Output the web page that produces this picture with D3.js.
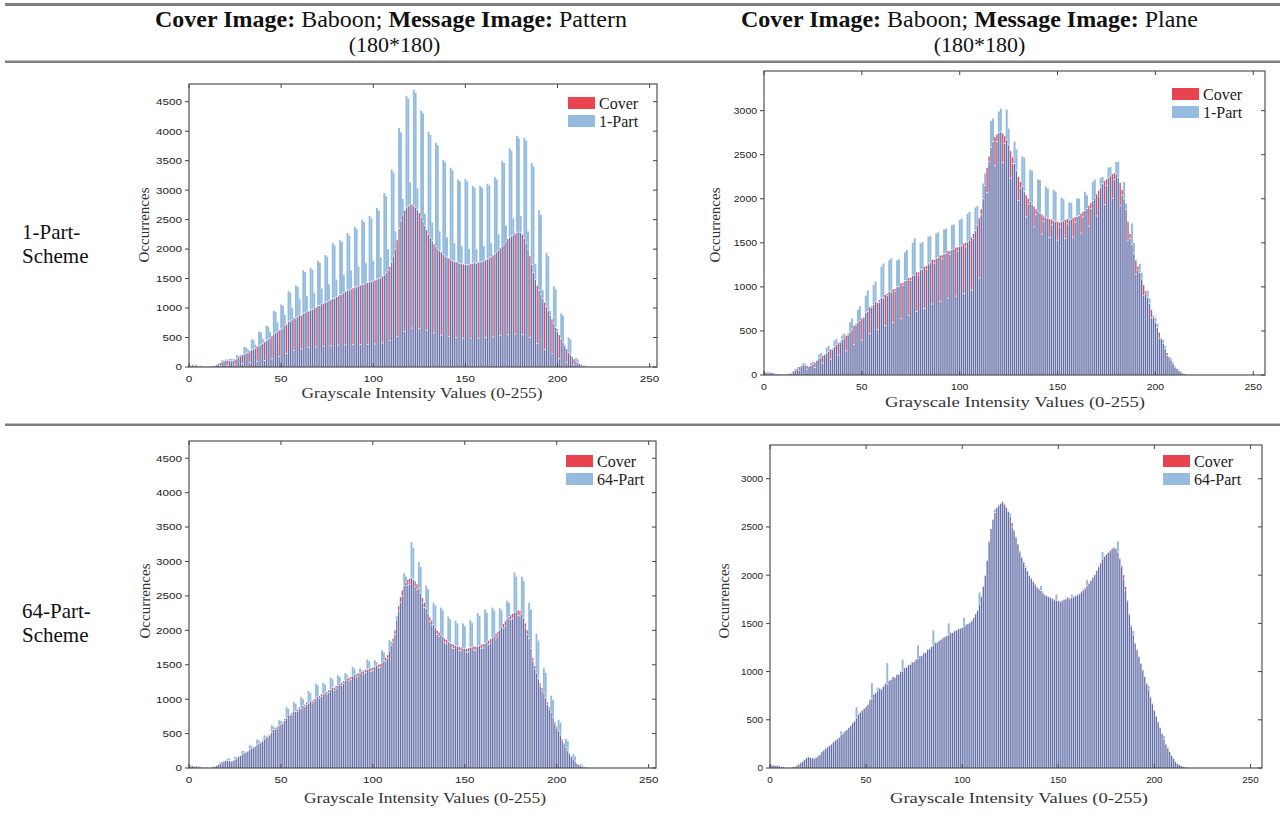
<!DOCTYPE html>
<html>
<head>
<meta charset="utf-8">
<script src="https://cdn.jsdelivr.net/npm/d3@7"></script>
<style>
body{margin:0;background:#fff;}
text{fill:#111;}
</style>
</head>
<body>
<svg id="fig" width="1285" height="818"></svg>
<script>
/* histogram counts, grayscale bins 0..219 (bins above 219 are empty) */
var bins = d3.range(0, 220);

// Baboon cover image
var cover = [
40,30,35,25,30,20,15,10,5,0,
5,5,10,15,25,40,55,70,90,105,
115,110,105,100,110,125,140,170,185,200,
220,235,250,270,290,300,320,345,360,380,
400,420,445,470,490,520,560,580,600,620,
640,660,710,720,770,780,800,830,820,850,
880,870,910,920,950,940,970,975,1000,1005,
1040,1045,1070,1075,1100,1105,1130,1135,1165,1165,
1195,1200,1230,1235,1260,1275,1305,1305,1325,1335,
1355,1360,1375,1380,1405,1405,1425,1430,1445,1450,
1460,1470,1490,1500,1510,1530,1560,1600,1640,1700,
1780,1880,2000,2150,2350,2480,2580,2650,2700,2730,
2750,2760,2740,2710,2670,2610,2540,2470,2400,2320,
2250,2190,2140,2080,2040,2000,1970,1940,1910,1880,
1860,1840,1820,1800,1790,1780,1770,1760,1750,1740,
1740,1730,1740,1750,1760,1770,1760,1770,1780,1790,
1800,1810,1830,1850,1870,1890,1920,1950,1980,2010,
2050,2090,2130,2170,2200,2220,2240,2260,2280,2290,
2280,2240,2180,2100,2000,1880,1740,1600,1480,1380,
1300,1230,1160,1090,1020,950,880,810,740,670,
600,540,480,420,360,300,250,210,170,130,
100,70,50,35,20,12,6,3,1,0
];

// message Pattern, 1-Part scheme
var pattern1 = [
35,20,45,40,30,10,25,20,5,0,
10,8,10,5,30,35,60,20,120,115,
130,30,140,135,130,35,200,190,210,55,
340,330,300,75,470,460,380,95,600,590,
480,110,700,690,600,140,950,930,760,180,
1060,1040,880,230,1290,1260,1000,280,1380,1360,
1160,310,1640,1610,1200,330,1680,1650,1260,340,
1800,1770,1330,350,1900,1870,1400,360,2100,2060,
1480,370,2150,2120,1560,375,2270,2230,1640,380,
2380,2340,1700,380,2500,2460,1760,385,2560,2520,
1800,390,2700,2650,1860,410,2950,2900,2000,450,
3350,3300,2300,520,4050,3980,2850,600,4600,4550,
3130,660,4700,4650,3030,650,4350,4300,2600,620,
3990,3940,2450,580,3800,3760,2300,540,3510,3470,
2200,520,3380,3340,2100,500,3180,3150,2050,490,
3190,3150,2000,490,3070,3040,2000,490,3070,3040,
2050,500,3110,3080,2100,510,3220,3180,2250,530,
3500,3460,2400,550,3710,3670,2520,560,3920,3880,
2560,550,3890,3840,2300,500,3460,3400,1750,400,
2660,2580,1300,300,1940,1880,950,220,1370,1320,
650,140,910,870,380,80,500,470,180,35,
150,130,50,10,30,25,8,2,0,0
];

// message Plane, 1-Part scheme
var plane1 = [
40,35,20,25,35,25,10,10,8,5,
3,5,15,20,15,40,70,85,55,100,
135,130,65,95,135,150,85,165,230,250,
135,230,310,330,180,290,390,410,225,370,
450,470,275,455,600,640,345,565,740,780,
395,650,900,960,470,765,1020,1060,515,825,
1230,1266,560,900,1300,1323,595,950,1300,1312,
640,1020,1390,1417,675,1075,1500,1550,720,1135,
1493,1510,755,1200,1568,1580,805,1270,1606,1620,
835,1320,1650,1660,870,1370,1700,1710,895,1405,
1760,1775,925,1455,1830,1850,965,1550,1900,1920,
1100,1820,2173,2287,2070,2420,2884,2910,2375,2650,
2990,3023,2410,2630,3012,2797,2235,2400,2650,2559,
1980,2120,2480,2468,1795,1940,2330,2317,1680,1820,
2220,2211,1600,1745,2140,2117,1560,1705,2100,2080,
1530,1680,2010,1995,1550,1715,1960,1954,1565,1735,
2003,2003,1610,1795,2079,2040,1690,1890,2190,2218,
1805,2030,2237,2250,1935,2150,2355,2360,2005,2220,
2419,2419,1920,2040,2192,1946,1530,1550,1720,1500,
1145,1190,1260,1160,900,920,960,870,650,650,
650,580,420,410,400,330,220,205,190,145,
88,70,60,40,12,12,8,4,2,0
];

// message Pattern, 64-Part scheme
var pattern64 = [
35,40,38,22,28,30,28,9,5,5,
5,4,9,20,28,37,52,90,88,100,
110,140,135,98,106,165,160,162,178,250,
240,228,242,330,320,290,310,412,400,365,
385,475,465,455,475,620,600,560,580,693,
680,640,690,887,860,765,775,960,935,825,
855,1032,1000,895,920,1119,1090,945,970,1227,
1200,1015,1040,1236,1210,1075,1095,1314,1290,1130,
1160,1347,1320,1200,1225,1381,1355,1265,1285,1468,
1440,1320,1335,1445,1420,1365,1385,1576,1550,1405,
1415,1566,1540,1455,1465,1711,1680,1550,1590,1856,
1830,1825,1940,2205,2280,2405,2500,2830,2780,2650,
2670,3280,3200,2630,2590,2990,2920,2400,2330,2650,
2600,2125,2075,2400,2360,1940,1910,2330,2290,1825,
1805,2200,2160,1745,1735,2140,2100,1705,1700,2100,
2060,1680,1690,2150,2110,1715,1705,2250,2210,1735,
1745,2300,2260,1795,1815,2330,2290,1890,1920,2320,
2290,2030,2065,2430,2400,2155,2175,2840,2780,2220,
2210,2780,2720,2035,1940,2400,2300,1550,1435,1950,
1850,1195,1125,1450,1380,920,855,1050,990,650,
580,700,660,405,350,420,390,205,165,200,
170,68,48,60,40,12,6,3,1,0
];

// message Plane, 64-Part scheme
var plane64 = [
38,32,30,28,28,22,14,10,6,2,
4,6,10,14,24,42,56,72,88,108,
118,112,104,102,108,128,138,172,186,200,
218,238,248,272,288,305,318,380,358,380,
398,418,442,468,488,630,556,578,598,618,
636,662,706,880,765,782,835,826,818,848,
878,1090,906,918,948,942,968,972,1000,1125,
1038,1046,1068,1076,1098,1102,1128,1273,1162,1166,
1192,1198,1226,1236,1258,1428,1300,1308,1322,1336,
1352,1362,1372,1500,1402,1408,1422,1432,1442,1452,
1458,1560,1488,1498,1508,1528,1558,1598,1636,1820,
1775,1880,1995,2150,2345,2480,2575,2680,2705,2725,
2745,2770,2735,2700,2660,2640,2500,2460,2395,2320,
2240,2185,2135,2095,2040,1995,1965,1935,1905,1875,
1855,1890,1815,1795,1785,1775,1765,1755,1745,1800,
1735,1725,1735,1745,1755,1770,1755,1800,1775,1785,
1795,1805,1825,1845,1865,1950,1915,1945,1975,2005,
2045,2085,2125,2240,2195,2215,2235,2255,2275,2285,
2275,2350,2170,2090,1960,1840,1730,1590,1470,1420,
1295,1225,1155,1085,1015,945,875,850,735,665,
598,538,478,418,358,330,248,208,168,128,
98,68,48,40,20,12,6,3,1,0
];

var xTicks = [0, 50, 100, 150, 200, 250];
var yTicksPattern = [0, 500, 1000, 1500, 2000, 2500, 3000, 3500, 4000, 4500];
var yTicksPlane = [0, 500, 1000, 1500, 2000, 2500, 3000];

var colOverlap = '#6670a8',
    colCover = '#cf5068',
    colStego = '#93bbde';

var panels = [
  {stego:pattern1, name:'1-Part', l:189, r:657, t:84, b:367, xmax:254, ymax:4800, yTicks:yTicksPattern, dw:6.5,
   leg:[568,97], xlab:[422,398,241], ylab:[144,225]},
  {stego:plane1, name:'1-Part', l:764, r:1265, t:71, b:375, xmax:256, ymax:3450, yTicks:yTicksPlane, dw:5.8,
   leg:[1172,88], xlab:[1015,407,260], ylab:[715,225]},
  {stego:pattern64, name:'64-Part', l:189, r:656, t:441, b:768, xmax:254, ymax:4750, yTicks:yTicksPattern, dw:6.5,
   leg:[566,455], xlab:[425,803,242], ylab:[145,601]},
  {stego:plane64, name:'64-Part', l:770, r:1262, t:445, b:768, xmax:256, ymax:3350, yTicks:yTicksPlane, dw:5.5,
   leg:[1163,455], xlab:[1019,803,258], ylab:[724,601]}
];

var svg = d3.select('#fig');
var serif = '"Liberation Serif","Times New Roman",serif';
var sans = '"Liberation Sans",Arial,sans-serif';

/* table rules */
svg.append('rect').attr('x',5).attr('y',3).attr('width',1275).attr('height',3).attr('fill','#7f7f7f');
svg.append('rect').attr('x',5).attr('y',60.5).attr('width',1275).attr('height',2.5).attr('fill','#7f7f7f');
svg.append('rect').attr('x',5).attr('y',423.5).attr('width',1275).attr('height',2.5).attr('fill','#7f7f7f');

/* column headers */
function header(cx, cx2, msg, w){
  var t = svg.append('text').attr('x',cx).attr('y',27).attr('text-anchor','middle')
    .attr('textLength', w).attr('lengthAdjust','spacingAndGlyphs')
    .style('font-family',serif).style('font-size','22.5px');
  t.append('tspan').attr('font-weight','bold').text('Cover Image:');
  t.append('tspan').text(' Baboon; ');
  t.append('tspan').attr('font-weight','bold').text('Message Image:');
  t.append('tspan').text(' ' + msg);
  svg.append('text').attr('x',cx2).attr('y',52).attr('text-anchor','middle')
    .style('font-family',serif).style('font-size','22px').text('(180*180)');
}
header(391, 394.5, 'Pattern', 472);
header(969.5, 979.5, 'Plane', 457);

/* row labels */
function rowLabel(y, l1){
  svg.append('text').attr('x',22).attr('y',y).style('font-family',serif).style('font-size','21px').text(l1);
  svg.append('text').attr('x',22).attr('y',y + 24).style('font-family',serif).style('font-size','21px').text('Scheme');
}
rowLabel(239, '1-Part-');
rowLabel(618, '64-Part-');

panels.forEach(drawPanel);

function drawPanel(p, idx){
  var x = d3.scaleLinear().domain([0, p.xmax]).range([p.l, p.r]);
  var y = d3.scaleLinear().domain([0, p.ymax]).range([p.b, p.t]);
  var g = svg.append('g');

  var clipId = 'clip' + idx;
  g.append('clipPath').attr('id', clipId).append('rect')
    .attr('x', p.l).attr('y', p.t).attr('width', p.r - p.l).attr('height', p.b - p.t);

  var rows = bins.map(function(v, i){ return {v:v, c:cover[i], s:p.stego[i]}; });
  var bw = x(1) - x(0), gap = 0.6;
  var bars = g.append('g').attr('clip-path', 'url(#' + clipId + ')');

  // part common to cover and stego
  bars.selectAll('.ov').data(rows).enter().append('rect')
    .attr('x', function(d){ return x(d.v - 0.5) + gap/2; })
    .attr('width', bw - gap)
    .attr('y', function(d){ return y(Math.min(d.c, d.s)); })
    .attr('height', function(d){ return y(0) - y(Math.min(d.c, d.s)); })
    .attr('fill', colOverlap);

  // part where one histogram is higher (stego excess drawn as solid columns)
  bars.selectAll('.ex').data(rows.filter(function(d){ return d.c !== d.s; })).enter().append('rect')
    .attr('x', function(d){ return x(d.v - 0.5) + (d.c > d.s ? gap/2 : 0); })
    .attr('width', function(d){ return d.c > d.s ? bw - gap : bw + 0.05; })
    .attr('y', function(d){ return y(Math.max(d.c, d.s)); })
    .attr('height', function(d){ return y(Math.min(d.c, d.s)) - y(Math.max(d.c, d.s)); })
    .attr('fill', function(d){ return d.c > d.s ? colCover : colStego; });

  // white bar edges on top of the lower histogram
  bars.selectAll('.tp').data(rows.filter(function(d){ return d.c !== d.s && Math.min(d.c, d.s) > 0; })).enter().append('line')
    .attr('x1', function(d){ return x(d.v - 0.5); })
    .attr('x2', function(d){ return x(d.v + 0.5); })
    .attr('y1', function(d){ return y(Math.min(d.c, d.s)); })
    .attr('y2', function(d){ return y(Math.min(d.c, d.s)); })
    .attr('stroke', '#fff').attr('stroke-width', 0.7);

  // box
  var axc = '#444';
  g.append('rect').attr('x', p.l).attr('y', p.t).attr('width', p.r - p.l).attr('height', p.b - p.t)
    .attr('fill', 'none').attr('stroke', axc).attr('stroke-width', 1.1);

  // x ticks (inside, bottom and top)
  xTicks.forEach(function(v){
    var xx = x(v);
    g.append('line').attr('x1', xx).attr('x2', xx).attr('y1', p.b).attr('y2', p.b - 4).attr('stroke', axc);
    g.append('line').attr('x1', xx).attr('x2', xx).attr('y1', p.t).attr('y2', p.t + 4).attr('stroke', axc);
    var s = String(v);
    g.append('text').attr('x', xx).attr('y', p.b + 15).attr('text-anchor', 'middle')
      .attr('textLength', s.length * p.dw).attr('lengthAdjust', 'spacingAndGlyphs')
      .style('font-family', sans).style('font-size', '9.5px').style('fill', '#222').text(s);
  });

  // y ticks (outside left, inside right)
  p.yTicks.forEach(function(v){
    var yy = y(v);
    g.append('line').attr('x1', p.l - 4).attr('x2', p.l).attr('y1', yy).attr('y2', yy).attr('stroke', axc);
    g.append('line').attr('x1', p.r - 4).attr('x2', p.r).attr('y1', yy).attr('y2', yy).attr('stroke', axc);
    var s = String(v);
    g.append('text').attr('x', p.l - 7).attr('y', yy + 3.4).attr('text-anchor', 'end')
      .attr('textLength', s.length * p.dw).attr('lengthAdjust', 'spacingAndGlyphs')
      .style('font-family', sans).style('font-size', '9.5px').style('fill', '#222').text(s);
  });

  // axis labels
  g.append('text').attr('x', p.xlab[0]).attr('y', p.xlab[1]).attr('text-anchor', 'middle')
    .attr('textLength', p.xlab[2]).attr('lengthAdjust', 'spacingAndGlyphs')
    .style('font-family', serif).style('font-size', '15.5px').style('fill', '#333')
    .text('Grayscale Intensity Values (0-255)');
  g.append('text').attr('transform', 'translate(' + (p.ylab[0] + 5) + ',' + p.ylab[1] + ') rotate(-90)')
    .attr('text-anchor', 'middle')
    .style('font-family', serif).style('font-size', '15px').style('fill', '#333')
    .text('Occurrences');

  // legend
  var lg = g.append('g').attr('transform', 'translate(' + p.leg[0] + ',' + p.leg[1] + ')');
  [['Cover', '#e8434e'], [p.name, '#95bcde']].forEach(function(it, i){
    lg.append('rect').attr('x', 0).attr('y', i * 18).attr('width', 27).attr('height', 12).attr('fill', it[1]);
    lg.append('text').attr('x', 31).attr('y', i * 18 + 11.5).style('font-family', serif)
      .style('font-size', '16px').style('fill', '#222').text(it[0]);
  });
}
</script>
</body>
</html>
